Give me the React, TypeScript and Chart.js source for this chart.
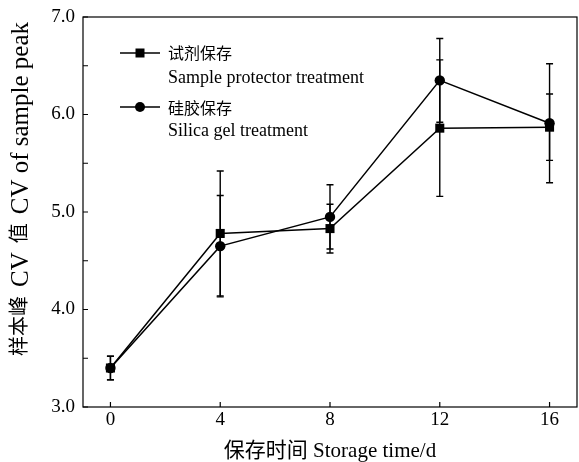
import React, { useEffect, useRef } from "react";
import { Chart, registerables } from "chart.js";

Chart.register(...registerables);

const days = [0, 4, 8, 12, 16];
const protectorCV = [3.4, 4.78, 4.83, 5.86, 5.87];
const protectorErr = [0.12, 0.64, 0.25, 0.7, 0.34];
const silicaCV = [3.4, 4.65, 4.95, 6.35, 5.91];
const silicaErr = [0.12, 0.52, 0.33, 0.43, 0.61];
const xTicks = [0, 4, 8, 12, 16];
const yMajorTicks = [3, 4, 5, 6, 7];
const yMinorTicks = [3.5, 4.5, 5.5, 6.5];
const legendCn = ["试剂保存", "硅胶保存"];
const legendEn = ["Sample protector treatment", "Silica gel treatment"];
const xTitle = "保存时间 Storage time/d";
const yTitleParts = [
  { text: "样本峰", cn: true },
  { text: "CV", cn: false },
  { text: "值", cn: true },
  { text: "CV of sample peak", cn: false },
];

const SERIF = "'Liberation Serif', 'Noto Sans CJK SC', serif";

const errors = [protectorErr, silicaErr];

const decorPlugin = {
  id: "decor",
  afterDatasetsDraw(chart: any) {
    const ctx = chart.ctx;
    const ys = chart.scales.y;
    ctx.save();
    ctx.strokeStyle = "#000";
    ctx.lineWidth = 1.4;
    chart.data.datasets.forEach((ds: any, di: number) => {
      const meta = chart.getDatasetMeta(di);
      ds.data.forEach((pt: any, i: number) => {
        const el = meta.data[i];
        const e = errors[di][i];
        const x = el.x;
        const yt = ys.getPixelForValue(pt.y + e);
        const yb = ys.getPixelForValue(pt.y - e);
        ctx.beginPath();
        ctx.moveTo(x, yt);
        ctx.lineTo(x, yb);
        ctx.moveTo(x - 3.5, yt);
        ctx.lineTo(x + 3.5, yt);
        ctx.moveTo(x - 3.5, yb);
        ctx.lineTo(x + 3.5, yb);
        ctx.stroke();
      });
    });
    ctx.restore();
  },
  afterDraw(chart: any) {
    const ctx = chart.ctx;
    const { left, right, top, bottom } = chart.chartArea;
    const xs = chart.scales.x;
    const ys = chart.scales.y;
    ctx.save();
    ctx.strokeStyle = "#000";
    ctx.lineWidth = 1.2;
    ctx.strokeRect(left, top, right - left, bottom - top);
    ctx.beginPath();
    xTicks.forEach((v) => {
      const x = xs.getPixelForValue(v);
      ctx.moveTo(x, bottom);
      ctx.lineTo(x, bottom - 5);
    });
    [...yMajorTicks, ...yMinorTicks].forEach((v) => {
      const y = ys.getPixelForValue(v);
      ctx.moveTo(left, y);
      ctx.lineTo(left + 5, y);
    });
    ctx.stroke();

    // legend
    const rows = [
      { ly: 53, cy: 55, ey: 83, style: "rect" },
      { ly: 107, cy: 110, ey: 136, style: "circle" },
    ];
    rows.forEach((r, i) => {
      ctx.lineWidth = 1.5;
      ctx.beginPath();
      ctx.moveTo(120, r.ly);
      ctx.lineTo(160, r.ly);
      ctx.stroke();
      ctx.fillStyle = "#000";
      ctx.beginPath();
      if (r.style === "rect") {
        ctx.rect(135.5, r.ly - 4.5, 9, 9);
      } else {
        ctx.arc(140, r.ly, 5, 0, Math.PI * 2);
      }
      ctx.fill();
      ctx.textAlign = "left";
      ctx.textBaseline = "middle";
      ctx.font = `16px ${SERIF}`;
      ctx.fillText(legendCn[i], 168, r.cy);
      ctx.textBaseline = "alphabetic";
      ctx.font = `18px ${SERIF}`;
      ctx.fillText(legendEn[i], 168, r.ey);
    });

    // x title
    ctx.fillStyle = "#000";
    ctx.textAlign = "center";
    ctx.textBaseline = "middle";
    ctx.font = `21px ${SERIF}`;
    ctx.fillText(xTitle, (left + right) / 2, 451);

    // y title (rotated), drawn from bottom upwards
    ctx.save();
    ctx.translate(21, 356);
    ctx.rotate(-Math.PI / 2);
    ctx.textAlign = "left";
    ctx.textBaseline = "middle";
    let pos = 0;
    const gap = 9;
    yTitleParts.forEach((p, idx) => {
      ctx.font = p.cn ? `20px ${SERIF}` : `25px ${SERIF}`;
      ctx.fillText(p.text, pos, 0);
      pos += ctx.measureText(p.text).width + (idx < yTitleParts.length - 1 ? gap : 0);
    });
    ctx.restore();
    ctx.restore();
  },
};

export default function App() {
  const ref = useRef<HTMLCanvasElement | null>(null);
  useEffect(() => {
    document.body.style.margin = "0";
    if (!ref.current) return;
    const chart = new Chart(ref.current, {
      type: "line",
      data: {
        datasets: [
          {
            label: legendEn[0],
            data: days.map((d, i) => ({ x: d, y: protectorCV[i] })),
            borderColor: "#000",
            backgroundColor: "#000",
            borderWidth: 1.5,
            pointStyle: "rect",
            pointRadius: 6.4,
            pointHoverRadius: 6.4,
            pointBackgroundColor: "#000",
            pointBorderWidth: 0,
          },
          {
            label: legendEn[1],
            data: days.map((d, i) => ({ x: d, y: silicaCV[i] })),
            borderColor: "#000",
            backgroundColor: "#000",
            borderWidth: 1.5,
            pointStyle: "circle",
            pointRadius: 5.2,
            pointHoverRadius: 5.2,
            pointBackgroundColor: "#000",
            pointBorderWidth: 0,
          },
        ],
      },
      options: {
        animation: false,
        responsive: false,
        maintainAspectRatio: false,
        events: [],
        layout: { autoPadding: false, padding: { top: 17, right: 2, left: 0, bottom: 0 } },
        plugins: {
          legend: { display: false },
          tooltip: { enabled: false },
        },
        scales: {
          x: {
            type: "linear",
            min: -1,
            max: 17,
            grid: { display: false, drawTicks: false },
            border: { display: false },
            afterBuildTicks: (s: any) => {
              s.ticks = xTicks.map((v) => ({ value: v }));
            },
            afterFit: (s: any) => {
              s.height = 55;
              s.paddingLeft = 0;
              s.paddingRight = 0;
            },
            ticks: {
              color: "#000",
              font: { family: SERIF, size: 19 },
              padding: 2,
              maxRotation: 0,
              autoSkip: false,
              callback: (v: any) => String(v),
            },
          },
          y: {
            type: "linear",
            min: 3,
            max: 7,
            grid: { display: false, drawTicks: false },
            border: { display: false },
            afterBuildTicks: (s: any) => {
              s.ticks = yMajorTicks.map((v) => ({ value: v }));
            },
            afterFit: (s: any) => {
              s.width = 83;
              s.paddingTop = 0;
              s.paddingBottom = 0;
            },
            ticks: {
              color: "#000",
              font: { family: SERIF, size: 19 },
              padding: 8,
              autoSkip: false,
              callback: (v: any) => Number(v).toFixed(1),
            },
          },
        },
      },
      plugins: [decorPlugin],
    });
    return () => chart.destroy();
  }, []);
  return <canvas ref={ref} width={579} height={462} style={{ display: "block" }} />;
}
